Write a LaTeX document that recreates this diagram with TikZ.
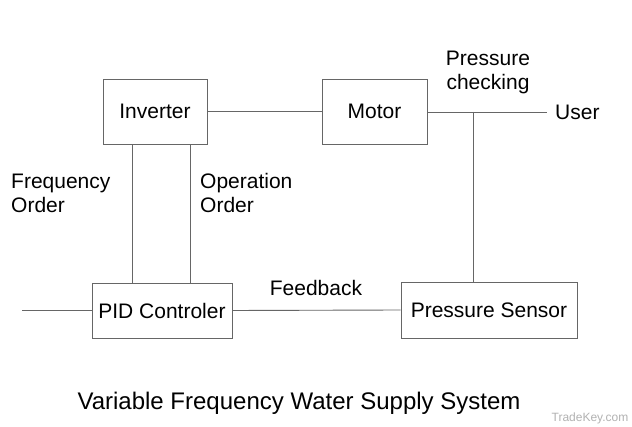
\documentclass[tikz,border=0pt]{standalone}
\usepackage{fontspec}
\setmainfont{Liberation Sans}
\usetikzlibrary{positioning,calc}
\tikzset
{
	block/.style = {rectangle, draw=black!60, line width=0.9pt, align=center, inner sep=0pt, font=\fontsize{21}{25}\selectfont},
	wire/.style  = {draw=black!60, line width=0.9pt},
	lbl/.style   = {align=left, inner sep=0pt, font=\fontsize{21}{24}\selectfont}
}

\begin{document}
\begin{tikzpicture}[x=1pt, y=-1pt]
\useasboundingbox[fill=white] (0,0) rectangle (632,427);
% blocks
\node[block, minimum width=104pt, minimum height=65pt] (inverter) at (155,111.5) {Inverter};
\node[block, minimum width=105pt, minimum height=65pt] (motor) at (374.5,111.5) {Motor};
\node[block, minimum width=140pt, minimum height=55pt] (pid) at (162,310.5) {PID Controler};
\node[block, minimum width=176pt, minimum height=56pt] (sensor) at (489,310) {Pressure Sensor};
% free ends
\coordinate (input) at (22,310.5);
\coordinate (tap) at (473,112);
\coordinate (userend) at (547,112);
% connectors
\draw[wire] (inverter.east) -- (motor.west);
\draw[wire] (motor.east |- tap) -- (userend);
\draw[wire] (tap) -- (tap |- sensor.north);
\draw[wire] ([xshift=-23pt]inverter.south) -- ([xshift=-23pt]inverter.south |- pid.north);
\draw[wire] ([xshift=35pt]inverter.south) -- ([xshift=35pt]inverter.south |- pid.north);
\draw[wire] (input) -- (pid.west);
\draw[wire] (pid.east) -- (sensor.west);
% labels
\node[lbl, anchor=west] (user) at (555,112) {User};
\node[lbl, align=center] (checking) at (488,72) {Pressure\\checking};
\node[lbl, anchor=west] (freq) at (11,193) {Frequency\\Order};
\node[lbl, anchor=west] (oper) at (200,193) {Operation\\Order};
\node[lbl] (feedback) at (316,288) {Feedback};
\node[lbl, font=\fontsize{24}{28}\selectfont] (title) at (299,403) {Variable Frequency Water Supply System};
\node[lbl, text=black!30, font=\fontsize{12}{14}\selectfont] (mark) at (590,418) {TradeKey.com};
\end{tikzpicture}
\end{document}
